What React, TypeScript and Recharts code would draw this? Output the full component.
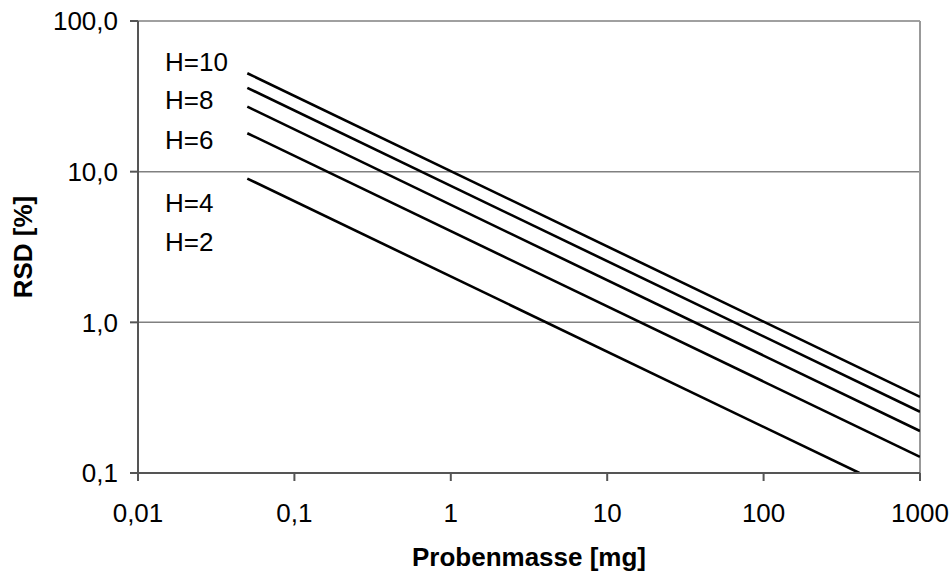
import React from 'react';
import { LineChart, Line, XAxis, YAxis, CartesianGrid, ReferenceLine, ReferenceDot, Label } from 'recharts';

// Probenmasse [mg] at the two ends of each line
const masses = [0.05, 1000];
const massesH2 = [0.05, 410];
// RSD [%]
const rsdH10 = [45, 0.32];
const rsdH8 = [36, 0.255];
const rsdH6 = [27, 0.19];
const rsdH4 = [18, 0.128];
const rsdH2 = [9, 0.1];

const xTicks = [0.01, 0.1, 1, 10, 100, 1000];
const xTickLabels = ['0,01', '0,1', '1', '10', '100', '1000'];
const yTicks = [0.1, 1, 10, 100];
const yTickLabels = ['0,1', '1,0', '10,0', '100,0'];

const seriesNames = ['H=10', 'H=8', 'H=6', 'H=4', 'H=2'];
// annotation anchors (data units)
const annotX = [0.0149, 0.0149, 0.0149, 0.0149, 0.0149];
const annotY = [53.5, 29.9, 16.2, 6.2, 3.42];

const toRows = (xs: number[], ys: number[]) => xs.map((x, i) => ({ x, y: ys[i] }));

const series = [
  toRows(masses, rsdH10),
  toRows(masses, rsdH8),
  toRows(masses, rsdH6),
  toRows(masses, rsdH4),
  toRows(massesH2, rsdH2),
];

const FONT = 'Arial, "Liberation Sans", sans-serif';
const FS = 26;

export default function App() {
  return (
    <div style={{ position: 'absolute', left: 0, top: 0, width: 952, height: 574, background: '#fff' }}>
      <LineChart width={952} height={574} margin={{ top: 21, right: 32, bottom: 41, left: 0 }}>
        <CartesianGrid vertical={false} stroke="#808080" strokeWidth={1.5} />
        <XAxis
          dataKey="x"
          type="number"
          scale="log"
          domain={[0.01, 1000]}
          allowDataOverflow
          ticks={xTicks}
          tickFormatter={(v: number) => xTickLabels[xTicks.indexOf(v)] ?? String(v)}
          height={60}
          tickSize={8}
          tickMargin={23}
          stroke="#555"
          strokeWidth={2}
          tick={{ fill: '#000', fontSize: FS, fontFamily: FONT }}
          interval={0}
        >
          <Label
            content={(p: any) => {
              const vb = p.viewBox || {};
              return (
                <text x={vb.x + vb.width / 2} y={566} textAnchor="middle" fontWeight="bold" fontSize={FS} fontFamily={FONT} fill="#000">
                  Probenmasse [mg]
                </text>
              );
            }}
          />
        </XAxis>
        <YAxis
          type="number"
          scale="log"
          domain={[0.1, 100]}
          allowDataOverflow
          ticks={yTicks}
          tickFormatter={(v: number) => yTickLabels[yTicks.indexOf(v)] ?? String(v)}
          width={138}
          tickSize={8}
          tickMargin={12}
          stroke="#555"
          strokeWidth={2}
          tick={{ fill: '#000', fontSize: FS, fontFamily: FONT }}
          interval={0}
        >
          <Label
            content={(p: any) => {
              const vb = p.viewBox || {};
              const cy = vb.y + vb.height / 2;
              return (
                <text x={32} y={cy} transform={`rotate(-90 32 ${cy})`} textAnchor="middle" fontWeight="bold" fontSize={FS} fontFamily={FONT} fill="#000">
                  RSD [%]
                </text>
              );
            }}
          />
        </YAxis>
        <ReferenceLine x={1000} stroke="#999" strokeWidth={2} />
        {series.map((d, i) => (
          <Line
            key={seriesNames[i]}
            data={d}
            dataKey="y"
            type="linear"
            stroke="#000"
            strokeWidth={2.6}
            dot={false}
            activeDot={false}
            isAnimationActive={false}
          />
        ))}
        {seriesNames.map((name, i) => (
          <ReferenceDot
            key={'a' + name}
            x={annotX[i]}
            y={annotY[i]}
            r={0}
            shape={(p: any) => (
              <text x={p.cx} y={p.cy} dominantBaseline="central" fontSize={FS} fontFamily={FONT} fill="#000">
                {name}
              </text>
            )}
          />
        ))}
      </LineChart>
    </div>
  );
}
